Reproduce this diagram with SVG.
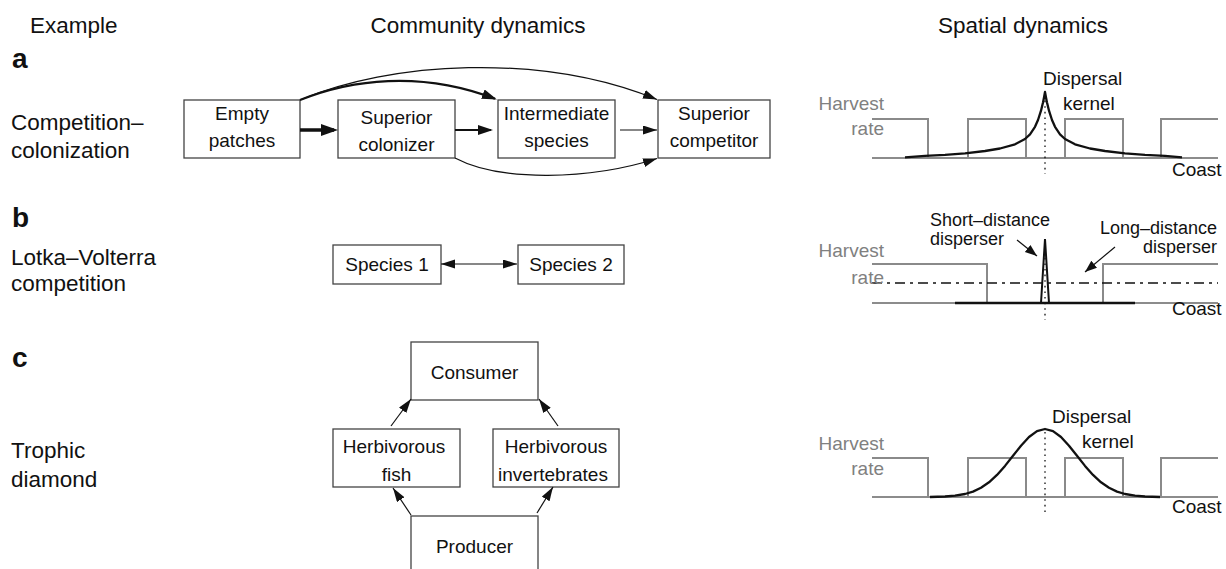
<svg xmlns="http://www.w3.org/2000/svg" width="1226" height="569" viewBox="0 0 1226 569">
<style>
text{font-family:"Liberation Sans",Arial,Helvetica,sans-serif;fill:#111}
.hdr{font-size:22.5px}
.lab{font-size:22.5px}
.let{font-size:28px;font-weight:bold}
.bt{font-size:19px;text-anchor:middle}
.st{font-size:19px}
.sm{font-size:18px}
.gray{fill:#808080}
.box{fill:#fff;stroke:#444;stroke-width:1.3}
.edge{fill:none;stroke:#111}
.step{fill:none;stroke:#8a8a8a;stroke-width:2}
.axis{fill:none;stroke:#666;stroke-width:1.6}
.kern{fill:none;stroke:#111;stroke-width:2.3;stroke-linejoin:round}
.dot{fill:none;stroke:#111;stroke-width:1.3;stroke-dasharray:1.6,4}
</style>
<defs>
<marker id="ahThick" markerUnits="userSpaceOnUse" markerWidth="18" markerHeight="13" refX="13" refY="6" orient="auto"><path d="M0,0 L17,6 L0,12 z" fill="#111"/></marker>
<marker id="ahMed" markerUnits="userSpaceOnUse" markerWidth="16" markerHeight="11" refX="13" refY="5" orient="auto"><path d="M0,0 L15,5 L0,10 z" fill="#111"/></marker>
<marker id="ahThin" markerUnits="userSpaceOnUse" markerWidth="15" markerHeight="10" refX="14" refY="4.5" orient="auto-start-reverse"><path d="M0,0 L14,4.5 L0,9 z" fill="#111"/></marker>
<marker id="ahSmall" markerUnits="userSpaceOnUse" markerWidth="13" markerHeight="10" refX="12" refY="4.5" orient="auto"><path d="M0,0 L12,4.5 L0,9 z" fill="#111"/></marker>
</defs>

<!-- headers and row labels -->
<g id="headers">
<text class="hdr" x="30" y="33">Example</text>
<text class="hdr" x="478" y="33" text-anchor="middle">Community dynamics</text>
<text class="hdr" x="1023" y="33" text-anchor="middle">Spatial dynamics</text>
</g>
<g id="row-labels">
<text class="let" x="12" y="68">a</text>
<text class="lab" x="11" y="130">Competition–</text>
<text class="lab" x="11" y="158">colonization</text>
<text class="let" x="12" y="227">b</text>
<text class="lab" x="11" y="265">Lotka–Volterra</text>
<text class="lab" x="11" y="291">competition</text>
<text class="let" x="12" y="367">c</text>
<text class="lab" x="11" y="458">Trophic</text>
<text class="lab" x="11" y="487">diamond</text>
</g>

<!-- panel a nodes -->
<g id="empty-patches"><rect class="box" x="184" y="100" width="116" height="58"/><text class="bt" x="242" y="120">Empty</text><text class="bt" x="242" y="147">patches</text></g>
<g id="superior-colonizer"><rect class="box" x="338" y="100" width="117" height="58"/><text class="bt" x="396.5" y="124">Superior</text><text class="bt" x="396.5" y="151">colonizer</text></g>
<g id="intermediate-species"><rect class="box" x="498" y="100" width="117" height="58"/><text class="bt" x="556.5" y="120">Intermediate</text><text class="bt" x="556.5" y="147">species</text></g>
<g id="superior-competitor"><rect class="box" x="658" y="100" width="112" height="58"/><text class="bt" x="714" y="120">Superior</text><text class="bt" x="714" y="147">competitor</text></g>

<!-- panel b nodes -->
<g id="species-1"><rect class="box" x="333" y="245" width="108" height="39"/><text class="bt" x="387" y="271">Species 1</text></g>
<g id="species-2"><rect class="box" x="518" y="245" width="106" height="39"/><text class="bt" x="571" y="271">Species 2</text></g>

<!-- panel c nodes -->
<g id="consumer"><rect class="box" x="411" y="342" width="127" height="58"/><text class="bt" x="474.5" y="379">Consumer</text></g>
<g id="herbivorous-fish"><rect class="box" x="333" y="429" width="127" height="58"/><text class="bt" x="394" y="453">Herbivorous</text><text class="bt" x="396.5" y="481">fish</text></g>
<g id="herbivorous-invertebrates"><rect class="box" x="493" y="429" width="126" height="58"/><text class="bt" x="556" y="453">Herbivorous</text><text class="bt" x="553" y="481">invertebrates</text></g>
<g id="producer"><rect class="box" x="411" y="516" width="127" height="70"/><text class="bt" x="474.5" y="553">Producer</text></g>

<!-- connectors -->
<g id="connectors">
<line class="edge" x1="300" y1="130" x2="334" y2="130" stroke-width="3.5" marker-end="url(#ahThick)"/>
<line class="edge" x1="455" y1="130" x2="491" y2="130" stroke-width="2" marker-end="url(#ahMed)"/>
<line class="edge" x1="620" y1="130" x2="657" y2="130" stroke-width="1.2" marker-end="url(#ahThin)"/>
<path class="edge" d="M300,100 C390,62 540,52 657,99.5" stroke-width="1.2" marker-end="url(#ahThin)"/>
<path class="edge" d="M300,100 C350,80 420,70 495,98.8" stroke-width="2.2" marker-end="url(#ahMed)"/>
<path class="edge" d="M455,158 C500,182 590,180 657,158.5" stroke-width="1.2" marker-end="url(#ahThin)"/>
<line class="edge" x1="441" y1="264" x2="517" y2="264" stroke-width="1.2" marker-start="url(#ahThin)" marker-end="url(#ahThin)"/>
<line class="edge" x1="391" y1="426" x2="411" y2="399" stroke-width="1.2" marker-end="url(#ahThin)"/>
<line class="edge" x1="558" y1="426" x2="539" y2="399" stroke-width="1.2" marker-end="url(#ahThin)"/>
<line class="edge" x1="411" y1="515" x2="393" y2="488" stroke-width="1.2" marker-end="url(#ahThin)"/>
<line class="edge" x1="537" y1="513" x2="553" y2="487" stroke-width="1.2" marker-end="url(#ahThin)"/>
</g>

<!-- spatial panel a -->
<g id="spatial-a">
<line class="axis" x1="872" y1="158" x2="1218" y2="158"/>
<polyline class="step" points="872,119 928,119 928,158 968,158 968,119 1026,119 1026,158 1065,158 1065,119 1123,119 1123,158 1161,158 1161,119 1218,119"/>
<text class="st gray" x="884" y="110" text-anchor="end">Harvest</text>
<text class="st gray" x="884" y="135" text-anchor="end">rate</text>
<line class="dot" x1="1045" y1="95" x2="1045" y2="174"/>
<polyline class="kern" points="905,157.3 925,155.9 945,154.9 965,153.3 985,151 1000,148.5 1015,144.3 1025,139 1030,134.3 1035,126.8 1038,120 1041,110.7 1043,102.4 1044,97.5 1045,92 1046,97.5 1047,102.4 1049,110.7 1052,120 1055,126.8 1060,134.3 1065,139 1075,144.3 1090,148.5 1105,151 1125,153.3 1145,154.9 1165,155.9 1182,157.3"/>
<text class="st" x="1043" y="85">Dispersal</text>
<text class="st" x="1063" y="110">kernel</text>
<text class="st" x="1172" y="176">Coast</text>
</g>

<!-- spatial panel b -->
<g id="spatial-b">
<line class="axis" x1="872" y1="303" x2="1218" y2="303"/>
<polyline class="step" points="872,264 987,264 987,303 1103,303 1103,264 1218,264"/>
<line x1="955" y1="303" x2="1135" y2="303" stroke="#111" stroke-width="2.5"/>
<line x1="872" y1="283" x2="1218" y2="283" stroke="#111" stroke-width="1.5" stroke-dasharray="10,5,3,5"/>
<line class="dot" x1="1045" y1="241" x2="1045" y2="320"/>
<polygon points="1041,303 1045,239 1049,303" fill="none" stroke="#111" stroke-width="2" stroke-linejoin="miter"/>
<text class="st gray" x="884" y="257" text-anchor="end">Harvest</text>
<text class="st gray" x="884" y="284" text-anchor="end">rate</text>
<text class="sm" x="930" y="226">Short–distance</text>
<text class="sm" x="930" y="245">disperser</text>
<text class="sm" x="1217" y="234" text-anchor="end">Long–distance</text>
<text class="sm" x="1217" y="253" text-anchor="end">disperser</text>
<line class="edge" x1="1017" y1="240" x2="1037" y2="256" stroke-width="1.2" marker-end="url(#ahSmall)"/>
<line class="edge" x1="1115" y1="247" x2="1085" y2="272" stroke-width="1.2" marker-end="url(#ahSmall)"/>
<text class="st" x="1172" y="315">Coast</text>
</g>

<!-- spatial panel c -->
<g id="spatial-c">
<line class="axis" x1="872" y1="497" x2="1218" y2="497"/>
<polyline class="step" points="872,458 928,458 928,497 968,497 968,458 1026,458 1026,497 1065,497 1065,458 1123,458 1123,497 1161,497 1161,458 1218,458"/>
<text class="st gray" x="884" y="450" text-anchor="end">Harvest</text>
<text class="st gray" x="884" y="475" text-anchor="end">rate</text>
<line class="dot" x1="1045" y1="432" x2="1045" y2="512"/>
<polyline class="kern" points="930,497 945,496.5 955,495.7 965,494 973,491.6 981,487.8 989,482.3 997,474.9 1005,465.9 1013,455.8 1021,445.7 1029,437 1037,431.1 1045,429 1053,431.1 1061,437 1069,445.7 1077,455.8 1085,465.9 1093,474.9 1101,482.3 1109,487.8 1117,491.6 1125,494 1135,495.7 1145,496.5 1160,497"/>
<text class="st" x="1052" y="423">Dispersal</text>
<text class="st" x="1082" y="448">kernel</text>
<text class="st" x="1172" y="513">Coast</text>
</g>
</svg>
